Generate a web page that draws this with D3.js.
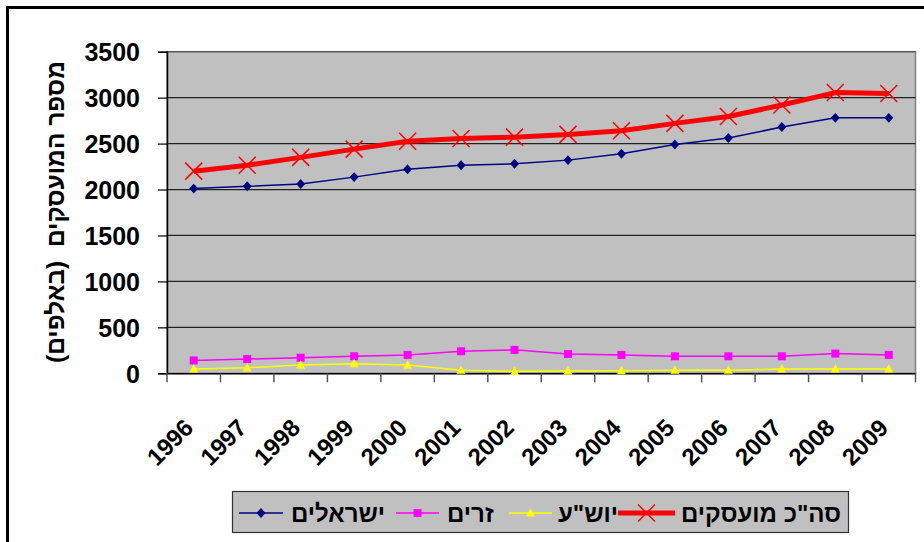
<!DOCTYPE html>
<html>
<head>
<meta charset="utf-8">
<script src="https://cdn.jsdelivr.net/npm/d3@7"></script>
<style>
  html, body { margin: 0; padding: 0; background: #fff; }
  svg { display: block; font-family: "Liberation Sans", Arial, sans-serif; }
</style>
</head>
<body>
<svg id="chart" width="924" height="542"></svg>
<script>
// ---- data ----
const years = ["1996","1997","1998","1999","2000","2001","2002","2003","2004","2005","2006","2007","2008","2009"];
const israelis   = [2010, 2035, 2060, 2135, 2220, 2265, 2280, 2320, 2390, 2490, 2560, 2680, 2780, 2780];
const foreigners = [140, 155, 170, 185, 200, 240, 255, 210, 200, 185, 185, 185, 215, 200];
const yosh       = [47, 60, 90, 105, 90, 33, 22, 25, 29, 33, 33, 47, 47, 47];
const total      = [2200, 2265, 2350, 2440, 2525, 2555, 2570, 2600, 2640, 2720, 2795, 2920, 3055, 3045];
const yTicks = [0, 500, 1000, 1500, 2000, 2500, 3000, 3500];
const seriesNames = ["ישראלים", "זרים", "יוש\"ע", "סה\"כ מועסקים"];
const yTitle = "מספר המועסקים  (באלפים)";

const svg = d3.select("#chart");
const L = 167, R = 915.5, T = 51.7, B = 373.3;

// outer border (right/bottom run off canvas)
svg.append("rect").attr("x", 7.5).attr("y", 7.5).attr("width", 940).attr("height", 560)
  .attr("fill", "#fff").attr("stroke", "#000").attr("stroke-width", 3);

const x = d3.scaleBand().domain(years).range([L, R]);
const y = d3.scaleLinear().domain([0, 3500]).range([B, T]);

// plot background
svg.append("rect").attr("x", L).attr("y", T).attr("width", R - L).attr("height", B - T)
  .attr("fill", "#C0C0C0").attr("stroke", "#808080").attr("stroke-width", 1.5);

// gridlines
svg.append("g").selectAll("line").data(yTicks.filter(d => d > 0)).join("line")
  .attr("x1", L).attr("x2", R).attr("y1", d => y(d)).attr("y2", d => y(d))
  .attr("stroke", d => d === 3500 ? "#555" : "#222").attr("stroke-width", 1.2);

// y axis
const gy = svg.append("g").attr("transform", `translate(${L},0)`)
  .call(d3.axisLeft(y).tickValues(yTicks).tickSize(9).tickPadding(18).tickFormat(d3.format("d")));
gy.select(".domain").attr("stroke", "#000").attr("stroke-width", 1.5);
gy.selectAll(".tick line").attr("stroke", "#000").attr("stroke-width", 1.2);
gy.selectAll(".tick text").attr("font-size", 25).attr("font-weight", "bold").attr("fill", "#000")
  .attr("dy", "0.36em");

// x axis
const gx = svg.append("g").attr("transform", `translate(0,${B})`)
  .call(d3.axisBottom(x).tickSize(0).tickPadding(0));
gx.select(".domain").attr("stroke", "#000").attr("stroke-width", 1.5);
gx.selectAll(".tick text")
  .attr("font-size", 24).attr("font-weight", "bold").attr("fill", "#000")
  .attr("text-anchor", "end").attr("x", 1).attr("y", 56).attr("dy", 0)
  .attr("transform", "rotate(-45,1,56)");
// boundary ticks
const bounds = years.map(d => x(d)).concat([R]);
svg.append("g").selectAll("line").data(bounds).join("line")
  .attr("x1", d => d).attr("x2", d => d).attr("y1", B).attr("y2", B + 9)
  .attr("stroke", "#555").attr("stroke-width", 1.5);

// y title
svg.append("text")
  .attr("transform", `translate(64,212) rotate(-90)`)
  .attr("text-anchor", "middle")
  .style("white-space", "pre")
  .attr("font-size", 24.5).attr("font-weight", "bold").attr("fill", "#000")
  .text(yTitle);

const cx = d => x(d) + x.bandwidth() / 2;
const line = vals => d3.line().x((v, i) => cx(years[i])).y(v => y(v))(vals);

// marker drawers
function diamond(g, px, py, s, c) {
  g.append("path").attr("d", `M${px},${py - s * 0.55}L${px + s * 0.5},${py}L${px},${py + s * 0.55}L${px - s * 0.5},${py}Z`)
    .attr("fill", c);
}
function square(g, px, py, s, c) {
  g.append("rect").attr("x", px - s / 2).attr("y", py - s / 2).attr("width", s).attr("height", s).attr("fill", c);
}
function triangle(g, px, py, s, c) {
  g.append("path").attr("d", `M${px},${py - s * 0.6}L${px + s * 0.55},${py + s * 0.45}L${px - s * 0.55},${py + s * 0.45}Z`).attr("fill", c);
}
function cross(g, px, py, s, c) {
  g.append("path").attr("d", `M${px - s},${py - s}L${px + s},${py + s}M${px - s},${py + s}L${px + s},${py - s}`)
    .attr("stroke", c).attr("stroke-width", 1.5).attr("fill", "none");
}

const series = [
  { vals: israelis, color: "#000080", width: 1.5, marker: (g, a, b) => diamond(g, a, b, 9, "#000080") },
  { vals: foreigners, color: "#FF00FF", width: 1.5, marker: (g, a, b) => square(g, a, b, 8, "#FF00FF") },
  { vals: yosh, color: "#FFFF00", width: 1.5, marker: (g, a, b) => triangle(g, a, b, 8, "#FFFF00") },
  { vals: total, color: "#FF0000", width: 5, marker: (g, a, b) => cross(g, a, b, 8.5, "#FF0000") }
];

series.forEach(s => {
  const g = svg.append("g");
  g.append("path").attr("d", line(s.vals)).attr("fill", "none")
    .attr("stroke", s.color).attr("stroke-width", s.width).attr("stroke-linejoin", "round");
  s.vals.forEach((v, i) => s.marker(g, cx(years[i]), y(v)));
});

// legend
const lg = svg.append("g");
lg.append("rect").attr("x", 232.5).attr("y", 491.5).attr("width", 616).attr("height", 41)
  .attr("fill", "#C0C0C0").attr("stroke", "#333").attr("stroke-width", 1.2);
const legendItems = [
  { name: seriesNames[0], l0: 239, l1: 283, t: 291, s: series[0] },
  { name: seriesNames[1], l0: 396, l1: 439, t: 447, s: series[1] },
  { name: seriesNames[2], l0: 509, l1: 552, t: 558, s: series[2] },
  { name: seriesNames[3], l0: 618, l1: 675, t: 681, s: series[3] }
];
const ly = 513;
legendItems.forEach(it => {
  lg.append("line").attr("x1", it.l0).attr("x2", it.l1).attr("y1", ly).attr("y2", ly)
    .attr("stroke", it.s.color).attr("stroke-width", it.s.width);
  it.s.marker(lg, (it.l0 + it.l1) / 2, ly);
  lg.append("text").attr("x", it.t).attr("y", ly + 9).attr("text-anchor", "start")
    .attr("font-size", 24).attr("font-weight", "bold").attr("fill", "#000").text(it.name);
});
</script>
</body>
</html>
